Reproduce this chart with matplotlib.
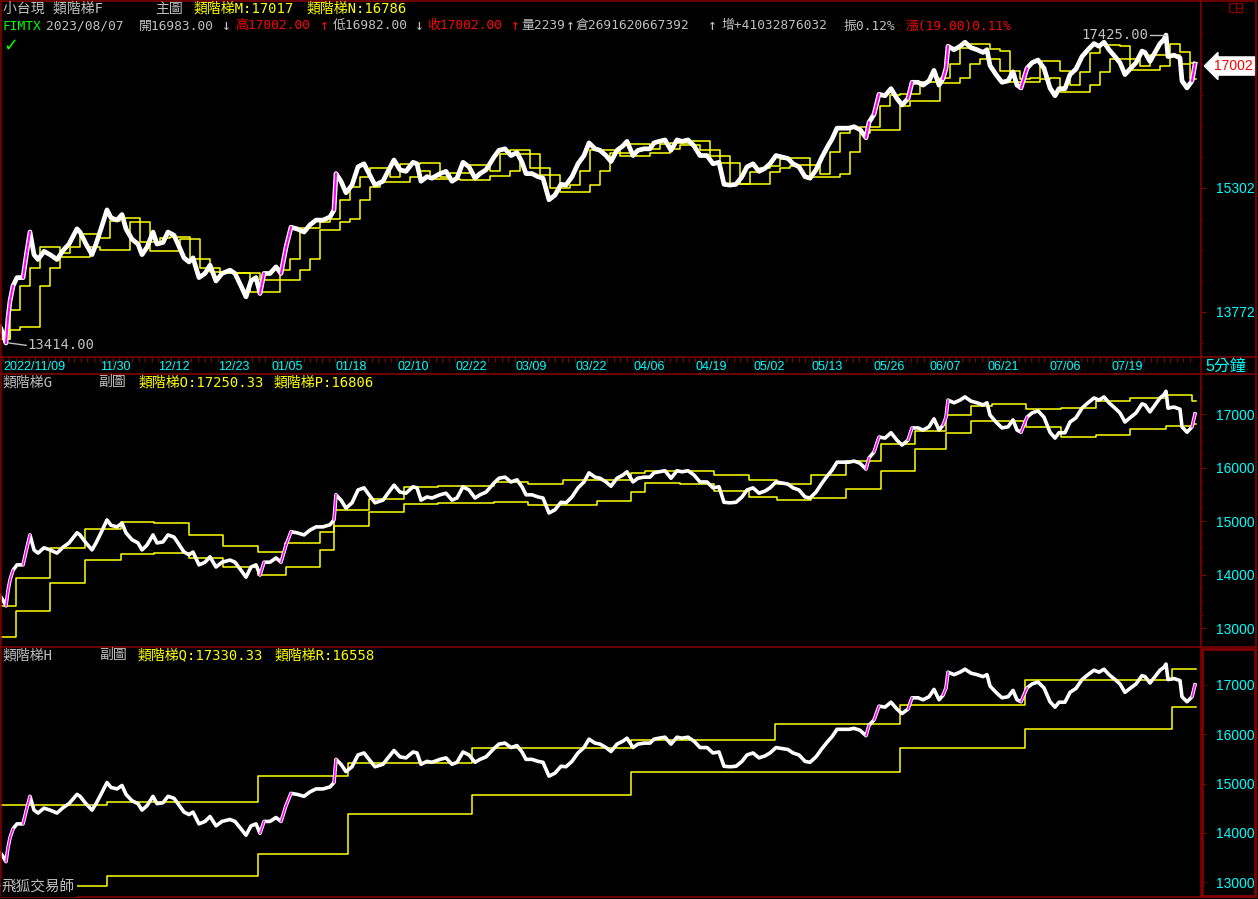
import numpy as np
import matplotlib
matplotlib.use('Agg')
import matplotlib.pyplot as plt
from matplotlib import font_manager
from matplotlib.patches import Rectangle
from matplotlib.ticker import NullFormatter

# 小台現 5分鐘 收盤, 依圖讀取 (位置 = K棒序號)
bars = [0, 3, 6, 8, 10, 13, 17, 23, 27, 30,
        34, 38, 44, 50, 57, 63, 69, 77, 80, 86,
        92, 96, 101, 107, 111, 117, 122, 126, 132, 138,
        142, 147, 153, 157, 163, 168, 174, 178, 184, 189,
        193, 199, 205, 210, 216, 222, 230, 235, 241, 246,
        251, 256, 260, 264, 270, 276, 281, 286, 291, 297,
        304, 310, 316, 323, 330, 334, 336, 341, 346, 352,
        358, 364, 369, 375, 383, 388, 394, 400, 406, 413,
        417, 421, 427, 432, 440, 446, 452, 457, 463, 469,
        475, 480, 486, 494, 499, 505, 511, 517, 522, 526,
        532, 538, 543, 549, 555, 561, 566, 572, 578, 584,
        589, 595, 600, 606, 611, 617, 623, 627, 633, 638,
        644, 650, 654, 659, 665, 671, 677, 682, 688, 694,
        700, 707, 713, 719, 724, 730, 736, 742, 747, 753,
        759, 765, 770, 776, 782, 788, 793, 799, 805, 810,
        816, 822, 828, 832, 837, 843, 849, 854, 860, 866,
        869, 874, 879, 885, 891, 897, 902, 908, 912, 918,
        923, 929, 934, 939, 943, 946, 948, 954, 960, 965,
        971, 977, 983, 987, 990, 996, 1002, 1008, 1013, 1017,
        1021, 1027, 1032, 1038, 1044, 1050, 1055, 1059, 1065, 1070,
        1076, 1082, 1088, 1094, 1099, 1104, 1109, 1115, 1120, 1125,
        1130, 1136, 1142, 1145, 1150, 1155, 1160, 1164, 1166, 1168,
        1174, 1180, 1182, 1187, 1192, 1195]
close = [13600, 13520, 13414, 13700, 13900, 14080, 14180, 14180, 14510, 14740,
         14460, 14400, 14500, 14460, 14400, 14510, 14590, 14780, 14740, 14590,
         14460, 14590, 14780, 15020, 14920, 14890, 14960, 14780, 14650, 14590,
         14460, 14550, 14740, 14590, 14610, 14740, 14700, 14590, 14420, 14370,
         14420, 14180, 14230, 14330, 14140, 14230, 14270, 14230, 14080, 13950,
         14140, 14180, 13990, 14230, 14230, 14310, 14230, 14550, 14800, 14780,
         14740, 14830, 14890, 14890, 14930, 15020, 15490, 15390, 15240, 15340,
         15580, 15620, 15490, 15340, 15390, 15520, 15670, 15540, 15520, 15640,
         15620, 15390, 15450, 15430, 15490, 15520, 15390, 15430, 15640, 15580,
         15430, 15490, 15540, 15710, 15800, 15820, 15730, 15770, 15640, 15490,
         15490, 15450, 15430, 15150, 15210, 15350, 15340, 15450, 15620, 15730,
         15900, 15820, 15800, 15730, 15650, 15800, 15860, 15920, 15730, 15800,
         15820, 15820, 15900, 15920, 15940, 15800, 15940, 15920, 15940, 15860,
         15730, 15730, 15620, 15640, 15350, 15340, 15350, 15450, 15580, 15620,
         15520, 15560, 15620, 15730, 15710, 15690, 15620, 15580, 15450, 15430,
         15540, 15710, 15860, 15950, 16100, 16100, 16100, 16120, 16080, 15970,
         16180, 16290, 16570, 16550, 16650, 16510, 16420, 16510, 16740, 16740,
         16700, 16760, 16910, 16700, 16790, 16940, 17260, 17210, 17260, 17320,
         17240, 17210, 17170, 17210, 16980, 16850, 16740, 16760, 16890, 16700,
         16660, 16940, 17020, 17060, 16940, 16660, 16550, 16650, 16650, 16850,
         16930, 17110, 17210, 17300, 17260, 17320, 17210, 17110, 17020, 16850,
         16930, 17020, 17190, 17170, 17040, 17170, 17300, 17360, 17425, 17110,
         17130, 17090, 16760, 16660, 16760, 17002]

# 主圖 類階梯M / 類階梯N (每 10 根一階)
m_vals = [13460, 13800, 14080, 14300, 14550, 14550, 14480, 14550, 14720, 14720,
          14660, 14880, 14920, 14920, 14870, 14620, 14660, 14680, 14680, 14650,
          14400, 14300, 14250, 14240, 14240, 14240, 14150, 14150, 14270, 14400,
          14790, 14790, 14860, 14900, 15150, 15320, 15450, 15560, 15560, 15450,
          15620, 15620, 15630, 15630, 15450, 15500, 15500, 15610, 15610, 15520,
          15750, 15810, 15810, 15750, 15560, 15470, 15300, 15340, 15530, 15800,
          15810, 15810, 15760, 15890, 15890, 15820, 15880, 15900, 15900, 15930,
          15930, 15800, 15730, 15630, 15350, 15510, 15570, 15590, 15680, 15700,
          15700, 15600, 15490, 15780, 16030, 16100, 16110, 16110, 16400, 16560,
          16580, 16580, 16740, 16740, 16800, 17000, 17230, 17290, 17290, 17220,
          17190, 16900, 16790, 16800, 17040, 17040, 16900, 16700, 16890, 17160,
          17280, 17280, 17260, 17080, 16980, 17140, 17140, 17300, 17180, 17017]
n_vals = [13460, 13560, 13600, 13600, 14080, 14300, 14430, 14430, 14430, 14550,
          14520, 14520, 14520, 14870, 14620, 14500, 14500, 14500, 14650, 14400,
          14300, 14250, 14240, 14240, 14240, 14010, 14010, 14010, 14150, 14150,
          14270, 14400, 14770, 14770, 14860, 14900, 15150, 15320, 15380, 15380,
          15380, 15450, 15530, 15420, 15420, 15420, 15410, 15410, 15410, 15460,
          15460, 15520, 15750, 15560, 15470, 15300, 15250, 15250, 15250, 15340,
          15530, 15760, 15720, 15720, 15720, 15770, 15770, 15820, 15870, 15870,
          15800, 15730, 15630, 15350, 15350, 15350, 15350, 15510, 15570, 15590,
          15600, 15450, 15450, 15450, 15490, 15780, 16030, 16080, 16080, 16080,
          16400, 16470, 16470, 16470, 16730, 16730, 16800, 17000, 17080, 17080,
          16900, 16750, 16750, 16750, 16790, 16800, 16600, 16600, 16600, 16700,
          16890, 17080, 17080, 16920, 16920, 16920, 16980, 17140, 17000, 16786]
mn_bars = np.arange(0, 1200, 10)

# 副圖 類階梯O / 類階梯P
o_bars = [0, 16, 50, 85, 121, 154, 189, 223, 258, 285, 320, 334, 369, 404, 438, 494, 528, 563,
          631, 645, 714, 749, 777, 811, 846, 881, 915, 946, 971, 992, 1026, 1061, 1096, 1130, 1166, 1192]
o_vals = [13410, 13930, 14500, 14850, 14980, 14960, 14740, 14530, 14420, 14590, 14800, 15210, 15410,
          15640, 15650, 15730, 15690, 15770, 15900, 15940, 15860, 15770, 15690, 15860, 16120, 16440,
          16680, 16980, 17150, 17190, 17090, 17110, 17240, 17300, 17360, 17250.33]
p_bars = [0, 16, 50, 85, 121, 154, 189, 223, 258, 286, 320, 334, 369, 404, 438, 494, 528, 597,
          631, 645, 680, 714, 749, 777, 811, 846, 881, 915, 946, 971, 1026, 1061, 1096, 1130, 1166, 1192]
p_vals = [12830, 13320, 13840, 14270, 14380, 14400, 14310, 14140, 13990, 14140, 14460, 14910, 15170,
          15320, 15340, 15360, 15300, 15370, 15540, 15710, 15690, 15560, 15450, 15390, 15430, 15600,
          15940, 16350, 16650, 16870, 16760, 16570, 16610, 16720, 16780, 16806]

# 副圖 類階梯Q / 類階梯R
q_bars = [0, 107, 258, 348, 472, 631, 775, 900, 1025, 1172]
q_vals = [14560, 14630, 15150, 15420, 15720, 15880, 16210, 16590, 17100, 17330.33]
r_bars = [0, 107, 258, 348, 472, 631, 900, 1025, 1172]
r_vals = [12920, 13120, 13570, 14380, 14770, 15230, 15720, 16110, 16558]

date_bars = [3, 100, 158, 218, 272, 335, 397, 455, 515, 575, 633, 695, 753, 812, 873, 930, 988, 1050, 1112]
date_labels = ['2022/11/09', '11/30', '12/12', '12/23', '01/05', '01/18', '02/10', '02/22', '03/09',
               '03/22', '04/06', '04/19', '05/02', '05/13', '05/26', '06/07', '06/21', '07/06', '07/19']

ticks1 = [13772, 15302]
minor1 = [13414, 14140, 14517, 14905, 15710, 16130, 16560, 17002, 17456]
ticks23 = [13000, 14000, 15000, 16000, 17000]

FRAME = '#800000'
GRAY = '#C0C0C0'
YEL = '#FFFF00'
CYAN = '#00FFFF'
MAG = '#FF00FF'
RED = '#FF0000'

avail = {f.name for f in font_manager.fontManager.ttflist}
NARROW = 'Liberation Sans Narrow' if 'Liberation Sans Narrow' in avail else 'Liberation Sans'
mono = ['DejaVu Sans Mono', 'Noto Sans CJK TC']
cjk = ['Noto Sans CJK TC', 'DejaVu Sans']
plt.rcParams['font.family'] = [NARROW, 'Noto Sans CJK TC']

bars = np.array(bars, dtype=float)
close = np.array(close, dtype=float)
last_bar = bars[-1] + 1

W, H = 1258, 899
fig = plt.figure(figsize=(W / 100, H / 100), dpi=100, facecolor='black')


def px_axes(x0, y0, x1, y1):
    return fig.add_axes([x0 / W, 1 - y1 / H, (x1 - x0) / W, (y1 - y0) / H])


def setup(ax, ylim):
    ax.set_facecolor('black')
    ax.set_xlim(0, 1201)
    ax.set_ylim(*ylim)
    for s in ax.spines.values():
        s.set_visible(False)
    ax.tick_params(axis='x', which='both', bottom=False, labelbottom=False)
    ax.yaxis.tick_right()
    ax.tick_params(axis='y', which='major', length=3.6, width=0.8, color=FRAME,
                   labelcolor=CYAN, labelsize=10, pad=7)
    ax.tick_params(axis='y', which='minor', length=1.6, width=0.8, color=FRAME)


def steps(ax, xs, vs, lw=1.1):
    xs = np.append(np.asarray(xs, dtype=float), last_bar)
    vs = np.append(np.asarray(vs, dtype=float), vs[-1])
    ax.step(xs, vs, where='post', color=YEL, lw=lw, zorder=2)


slope = np.diff(close) / np.diff(bars)
up_idx = np.where(slope > 45)[0]


def draw_price(ax, lw):
    ax.plot(bars, close, color='white', lw=lw, zorder=3)
    for i in up_idx:
        ax.plot(bars[i:i + 2], close[i:i + 2], color=MAG, lw=lw * 0.45, zorder=4)


# ---- 主圖 ----
ax1 = px_axes(0, 2, 1201, 357)
ax1.set_yscale('log')
setup(ax1, (13255, 17922))
ax1.set_yticks(ticks1, labels=[str(t) for t in ticks1])
ax1.set_yticks(minor1, minor=True)
ax1.yaxis.set_minor_formatter(NullFormatter())
steps(ax1, mn_bars, m_vals)
steps(ax1, mn_bars, n_vals)
draw_price(ax1, 3.4)

hi = int(np.argmax(close))
lo = int(np.argmin(close))
ax1.plot([bars[hi] - 16, bars[hi]], [close[hi], close[hi]], color=GRAY, lw=1, zorder=5)
ax1.text(bars[hi] - 18, close[hi], f'{close[hi]:.2f}', ha='right', va='center',
         color=GRAY, fontsize=10, family=mono)
ax1.plot([bars[lo] + 3, bars[lo] + 20], [close[lo], close[lo] * 0.998], color=GRAY, lw=1, zorder=5)
ax1.text(bars[lo] + 21, close[lo] * 0.998, f'{close[lo]:.2f}', ha='left', va='center',
         color=GRAY, fontsize=10, family=mono)
ax1.annotate(f'{close[-1]:.0f}', xy=(1, close[-1]), xycoords=('axes fraction', 'data'),
             xytext=(13, -2), textcoords='offset pixels', ha='left', va='center',
             color=RED, fontsize=10, family=NARROW, annotation_clip=False,
             bbox=dict(boxstyle='larrow,pad=0.15', fc='white', ec='white'))

# ---- 日期列 ----
band = px_axes(0, 357, 1201, 374)
band.set_facecolor('black')
band.set_xlim(0, 1201)
band.set_ylim(0, 1)
band.axis('off')
edges = date_bars + [int(last_bar)]
day_ticks = []
for a, b in zip(edges[:-1], edges[1:]):
    n = max(1, int(round((b - a) / 6.5)))
    day_ticks.extend(np.linspace(a, b, n + 1)[:-1])
band.vlines(day_ticks, 0.72, 1.0, color=FRAME, lw=0.8)
for xb, lab in zip(date_bars, date_labels):
    band.text(xb, 0.42, lab, color=CYAN, fontsize=9, ha='left', va='center')

# ---- 副圖 G ----
ax2 = px_axes(0, 374, 1201, 647)
setup(ax2, (12645, 17748))
ax2.set_yticks(ticks23, labels=[str(t) for t in ticks23])
ax2.set_yticks(np.arange(12750, 17750, 250), minor=True)
steps(ax2, o_bars, o_vals)
steps(ax2, p_bars, p_vals)
draw_price(ax2, 2.6)

# ---- 副圖 H ----
ax3 = px_axes(0, 647, 1201, 897)
setup(ax3, (12696, 17771))
ax3.set_yticks(ticks23, labels=[str(t) for t in ticks23])
ax3.set_yticks(np.arange(12750, 17750, 250), minor=True)
steps(ax3, q_bars, q_vals)
steps(ax3, r_bars, r_vals)
draw_price(ax3, 2.6)

# ---- 外框與文字 ----
ov = fig.add_axes([0, 0, 1, 1], facecolor='none')
ov.set_xlim(0, W)
ov.set_ylim(H, 0)
ov.axis('off')
ov.add_patch(Rectangle((1, 1), W - 3, H - 3, fill=False, ec=FRAME, lw=1.2))
ov.plot([1201, 1201], [1, H - 2], color=FRAME, lw=1.2)
for yy in (357, 374, 647):
    ov.plot([1, W - 2], [yy, yy], color=FRAME, lw=1.2)
ov.add_patch(Rectangle((1202, 648.5), 53, 247.5, fill=False, ec=FRAME, lw=2))
ov.add_patch(Rectangle((1229, 3), 13, 9, fill=False, ec=FRAME, lw=1))
ov.plot([1236, 1236], [3, 12], color=FRAME, lw=1)
ov.plot([1236, 1242], [7.5, 7.5], color=FRAME, lw=1)


def hdr(x, y, s, c=GRAY, fam=mono, size=10, **kw):
    ov.text(x, y, s, color=c, family=fam, fontsize=size, ha='left', va='center', **kw)


hdr(3, 8.5, '小台現 類階梯F')
hdr(155, 8.5, '主圖')
hdr(194, 8.5, f'類階梯M:{m_vals[-1]}', YEL)
hdr(307, 8.5, f'類階梯N:{n_vals[-1]}', YEL)

line2 = [(3, 'FIMTX', '#00FF00'), (46, '2023/08/07', GRAY), (139, '開16983.00', GRAY),
         (226, '↓', GRAY), (235, '高17002.00', RED), (324, '↑', RED), (333, '低16982.00', GRAY),
         (419, '↓', GRAY), (427, '收17002.00', RED), (515, '↑', RED), (521, '量2239', GRAY),
         (570, '↑', GRAY), (576, '倉2691620667392', GRAY), (712, '↑', GRAY),
         (722, '增+41032876032', GRAY), (843, '振0.12%', GRAY), (906, '漲(19.00)0.11%', RED)]
for x, s, c in line2:
    if s in ('↑', '↓'):
        ov.text(x, 26, s, color=c, family='DejaVu Sans Mono', fontsize=10.5,
                ha='center', va='center')
    else:
        hdr(x, 26, s, c, size=9.3)
ov.text(3, 46, '✓', color='#00FF00', fontsize=13, family='DejaVu Sans',
        fontweight='bold', ha='left', va='center')

hdr(3, 382, '類階梯G')
hdr(98, 382, '副圖')
hdr(139, 382, f'類階梯O:{o_vals[-1]:.2f}', YEL)
hdr(274, 382, f'類階梯P:{p_vals[-1]}', YEL)
hdr(3, 655, '類階梯H')
hdr(99, 655, '副圖')
hdr(138, 655, f'類階梯Q:{q_vals[-1]:.2f}', YEL)
hdr(275, 655, f'類階梯R:{r_vals[-1]}', YEL)
hdr(2, 888, '飛狐交易師', GRAY, cjk, 10.5,
    bbox=dict(boxstyle='square,pad=0.1', fc='black', ec='none'))
hdr(1205, 366, '5分鐘', CYAN, [NARROW, 'Noto Sans CJK TC'], 11.5)

fig.savefig('out.png', dpi=100, facecolor='black')
